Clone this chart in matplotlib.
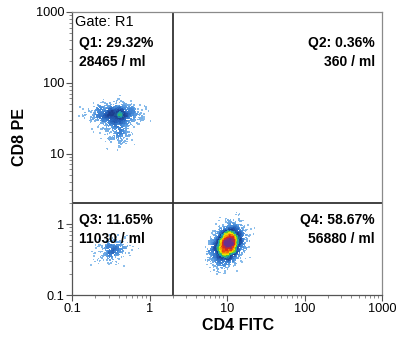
import numpy as np
import matplotlib
matplotlib.use("Agg")
import matplotlib.pyplot as plt
from matplotlib.colors import LinearSegmentedColormap
from matplotlib.ticker import LogLocator, NullFormatter, FixedFormatter, FixedLocator

plt.rcParams['font.family'] = ['Liberation Sans', 'DejaVu Sans']

# Quadrant statistics
quad_names = ["Q1", "Q2", "Q3", "Q4"]
quad_pct = [29.32, 0.36, 11.65, 58.67]
quad_conc = [28465, 360, 11030, 56880]

# Quadrant gates (CD4, CD8)
gate_x = 2.0
gate_y = 2.0

# Population centres (log10 CD4, log10 CD8), spreads and tilt
pop_cx = [-0.44, -0.41, -0.47, 1.01]
pop_cy = [1.55, 1.33, -0.37, -0.29]
pop_sx = [0.15, 0.08, 0.09, 0.095]
pop_sy = [0.075, 0.11, 0.085, 0.13]
pop_rho = [0.0, 0.0, 0.15, 0.3]
pop_n = [1000, 260, 330, 2900]

tick_vals = [0.1, 1, 10, 100, 1000]
tick_labels = ["0.1", "1", "10", "100", "1000"]

W, H_PX = 401, 346

rng = np.random.default_rng(11)
lx, ly = [], []
for cx, cy, sx, sy, r, n in zip(pop_cx, pop_cy, pop_sx, pop_sy, pop_rho, pop_n):
    cov = [[sx * sx, r * sx * sy], [r * sx * sy, sy * sy]]
    pts = rng.multivariate_normal([cx, cy], cov, size=n)
    lx.append(pts[:, 0])
    ly.append(pts[:, 1])
lx = np.concatenate(lx)
ly = np.concatenate(ly)

# local event density on a fine log grid with a small box smoothing
nb = 260
edges = np.linspace(-1, 3, nb + 1)
Hc, _, _ = np.histogram2d(lx, ly, bins=[edges, edges])
k = 2
Hs = np.zeros_like(Hc)
for dx in range(-k, k + 1):
    for dy in range(-k, k + 1):
        Hs += np.roll(np.roll(Hc, dx, axis=0), dy, axis=1)
ix = np.clip(np.digitize(lx, edges) - 1, 0, nb - 1)
iy = np.clip(np.digitize(ly, edges) - 1, 0, nb - 1)
dens = Hs[ix, iy]
order = np.argsort(dens)

cmap = LinearSegmentedColormap.from_list(
    "flow",
    [(0.00, "#8fc0ec"), (0.12, "#4a90dc"), (0.26, "#2460b8"),
     (0.38, "#1c3c8c"), (0.48, "#20a0b8"), (0.56, "#40c040"),
     (0.66, "#f0e400"), (0.76, "#f59000"), (0.86, "#e02818"),
     (1.00, "#6a3090")])

fig = plt.figure(figsize=(W / 100, H_PX / 100), dpi=100)
ax = fig.add_axes([72 / W, 1 - 295 / H_PX, 310 / W, 283 / H_PX])
ax.scatter(10 ** lx[order], 10 ** ly[order], c=dens[order], cmap=cmap,
           vmin=1, vmax=dens.max() * 0.92, s=1.3, marker='s',
           linewidths=0, rasterized=True)

ax.set_xscale('log')
ax.set_yscale('log')
ax.set_xlim(0.1, 1000)
ax.set_ylim(0.1, 1000)

for axis in (ax.xaxis, ax.yaxis):
    axis.set_major_locator(FixedLocator(tick_vals))
    axis.set_major_formatter(FixedFormatter(tick_labels))
    axis.set_minor_locator(LogLocator(base=10, subs=np.arange(2, 10), numticks=20))
    axis.set_minor_formatter(NullFormatter())
ax.tick_params(which='major', length=4, width=0.8, color='#555555',
               labelsize=9.2, pad=1.5)
ax.tick_params(which='minor', length=2.4, width=0.6, color='#777777')

for s in ax.spines.values():
    s.set_color('#8a8a8a')
    s.set_linewidth(0.9)
ax.spines['left'].set_color('#555555')
ax.spines['bottom'].set_color('#555555')

ax.axvline(gate_x, color='#333333', lw=1.3)
ax.axhline(gate_y, color='#333333', lw=1.3)


def label(xp, yp, s, ha, bold=True, size=10):
    fig.text(xp / W, 1 - yp / H_PX, s, ha=ha, va='center', fontsize=size,
             fontweight='bold' if bold else 'normal')


label(75, 22, "Gate: R1", 'left', bold=False, size=10.5)
label(79, 43, f"{quad_names[0]}: {quad_pct[0]:.2f}%", 'left')
label(79, 62, f"{quad_conc[0]} / ml", 'left')
label(375, 43, f"{quad_names[1]}: {quad_pct[1]:.2f}%", 'right')
label(375, 62, f"{quad_conc[1]} / ml", 'right')
label(79, 220, f"{quad_names[2]}: {quad_pct[2]:.2f}%", 'left')
label(79, 239, f"{quad_conc[2]} / ml", 'left')
label(375, 220, f"{quad_names[3]}: {quad_pct[3]:.2f}%", 'right')
label(375, 239, f"{quad_conc[3]} / ml", 'right')

fig.text(20 / W, 1 - 137 / H_PX, "CD8 PE", rotation=90, ha='center',
         va='center', fontsize=11.5, fontweight='bold')
fig.text(238 / W, 1 - 326 / H_PX, "CD4 FITC", ha='center', va='center',
         fontsize=11.5, fontweight='bold')

fig.savefig("out.png", dpi=100)
